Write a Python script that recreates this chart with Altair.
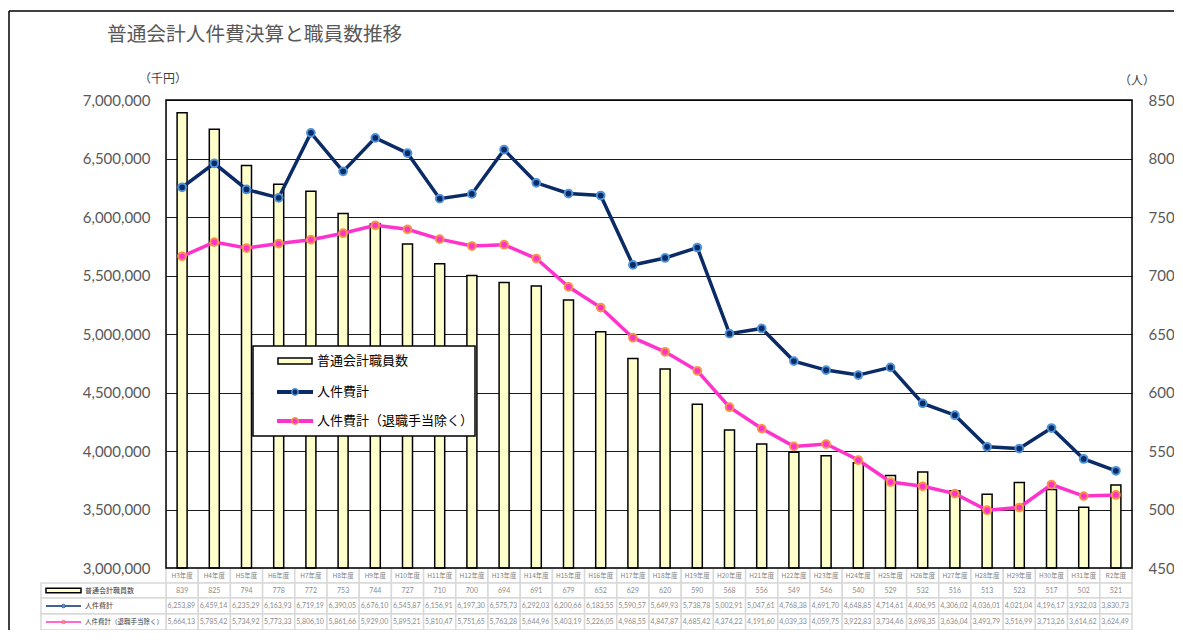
import altair as alt
import pandas as pd

categories = ["H3年度", "H4年度", "H5年度", "H6年度", "H7年度", "H8年度", "H9年度", "H10年度",
              "H11年度", "H12年度", "H13年度", "H14年度", "H15年度", "H16年度", "H17年度", "H18年度",
              "H19年度", "H20年度", "H21年度", "H22年度", "H23年度", "H24年度", "H25年度", "H26年度",
              "H27年度", "H28年度", "H29年度", "H30年度", "H31年度", "R2年度"]

staff = [839, 825, 794, 778, 772, 753, 744, 727, 710, 700, 694, 691, 679, 652, 629, 620,
         590, 568, 556, 549, 546, 540, 529, 532, 516, 513, 523, 517, 502, 521]

personnel_total = [6253890, 6459140, 6235290, 6163930, 6719190, 6390050, 6676100, 6545870,
                   6156910, 6197300, 6575730, 6292030, 6200660, 6183550, 5590570, 5649930,
                   5738780, 5002910, 5047610, 4768380, 4691700, 4648850, 4714610, 4406950,
                   4306020, 4036010, 4021040, 4196170, 3932030, 3830730]

personnel_excl = [5664130, 5785420, 5734920, 5773330, 5806100, 5861660, 5929000, 5895210,
                  5810470, 5751650, 5763280, 5644960, 5403190, 5226050, 4968550, 4847870,
                  4685420, 4374220, 4191600, 4039330, 4059750, 3922830, 3734460, 3698350,
                  3636040, 3493790, 3516990, 3713260, 3614620, 3624490]

left_ticks = [3000000, 3500000, 4000000, 4500000, 5000000, 5500000, 6000000, 6500000, 7000000]
right_ticks = [450, 500, 550, 600, 650, 700, 750, 800, 850]

title_text = "普通会計人件費決算と職員数推移"
left_unit = "（千円）"
right_unit = "（人）"
series_names = ["普通会計職員数", "人件費計", "人件費計（退職手当除く）"]

W, H = 966, 468
NAVY = "#0B2B66"
LIGHTBLUE = "#4F94DB"
PINK = "#FF33CC"
ORANGE = "#F79646"
YELLOW = "#FFFFCC"
GRAY = "#595959"
CJK = "Noto Sans CJK JP"
NUM = "Lato"

df = pd.DataFrame({"cat": categories, "staff": staff,
                   "total": personnel_total, "excl": personnel_excl})
one = pd.DataFrame({"a": [0]})

xs = alt.Scale(domain=categories, paddingInner=0, paddingOuter=0)
X = alt.X("cat:N", sort=categories, scale=xs, axis=None)
money_scale = alt.Scale(domain=[3000000, 7000000], zero=False, nice=False)
staff_scale = alt.Scale(domain=[450, 850], zero=False, nice=False)

base = alt.Chart(df)

# outer frame (top and left edges; right/bottom are outside the picture)
frame = [
    alt.Chart(one).mark_rule(color="black", strokeWidth=1.5).encode(
        x=alt.value(-157), x2=alt.value(1010), y=alt.value(-89)),
    alt.Chart(one).mark_rule(color="black", strokeWidth=1.5).encode(
        x=alt.value(-157), y=alt.value(-89), y2=alt.value(540)),
]

bars = base.mark_bar(size=10, fill=YELLOW, stroke="black", strokeWidth=1.5).encode(
    x=X,
    y=alt.Y("staff:Q", scale=staff_scale, stack=None,
            axis=alt.Axis(orient="right", values=right_ticks, format="d", title=None,
                          ticks=False, domain=False, grid=False, labelPadding=16,
                          labelFont=NUM, labelFontSize=15, labelColor=GRAY)),
    y2=alt.datum(450))

nav_line = base.mark_line(color=NAVY, strokeWidth=3.5).encode(
    x=X,
    y=alt.Y("total:Q", scale=money_scale,
            axis=alt.Axis(orient="left", values=left_ticks, format=",.0f", title=None,
                          ticks=False, domain=False, grid=True, gridColor="#1a1a1a",
                          gridWidth=1.2, labelPadding=16,
                          labelFont=NUM, labelFontSize=15, labelColor=GRAY)))
nav_pts = base.mark_point(filled=True, fill=NAVY, stroke=LIGHTBLUE, strokeWidth=2,
                          size=60, opacity=1, shape="circle").encode(
    x=X, y=alt.Y("total:Q", scale=money_scale, axis=None))

pink_line = base.mark_line(color=PINK, strokeWidth=3.5).encode(
    x=X, y=alt.Y("excl:Q", scale=money_scale, axis=None))
pink_pts = base.mark_point(filled=True, fill=PINK, stroke=ORANGE, strokeWidth=2,
                           size=60, opacity=1, shape="circle").encode(
    x=X, y=alt.Y("excl:Q", scale=money_scale, axis=None))

# plot-area frame
plot_frame = alt.Chart(one).mark_rect(fillOpacity=0, stroke="black", strokeWidth=1.5).encode(
    x=alt.value(0), x2=alt.value(W), y=alt.value(0), y2=alt.value(H))

# ---- data table below the plot ----
rows = [(H, H + 15), (H + 15, H + 30), (H + 30, H + 46), (H + 46, H + 62)]
table_layers = []
for i, (y0, y1) in enumerate(rows):
    table_layers.append(base.mark_rect(fill="white", stroke="#D9D9D9", strokeWidth=1.5).encode(
        x=X, y=alt.value(y0), y2=alt.value(y1)))
    if i > 0:
        table_layers.append(alt.Chart(one).mark_rect(fill="white", stroke="#D9D9D9", strokeWidth=1.5).encode(
            x=alt.value(-125), x2=alt.value(0), y=alt.value(y0), y2=alt.value(y1)))

mid = [(a + b) / 2 for a, b in rows]
table_layers.append(base.mark_text(fontSize=6.5, color="#7F7F7F", font=CJK).encode(
    x=X, y=alt.value(mid[0]), text="cat:N"))
table_layers.append(base.mark_text(fontSize=7, color="#8C8C8C", font=NUM).encode(
    x=X, y=alt.value(mid[1]), text=alt.Text("staff:Q", format="d")))
for j, field in [(2, "total"), (3, "excl")]:
    table_layers.append(base.mark_text(fontSize=7, color="#8C8C8C", font=NUM, align="left",
                                       dx=1.5, limit=29, ellipsis="\u200b").encode(
        x=alt.X("cat:N", sort=categories, scale=xs, axis=None, bandPosition=0),
        y=alt.value(mid[j]), text=alt.Text(f"{field}:Q", format=",.0f")))

# row keys
table_layers += [
    alt.Chart(one).mark_rect(fill=YELLOW, stroke="black", strokeWidth=1.5).encode(
        x=alt.value(-120), x2=alt.value(-85), y=alt.value(mid[1] - 2.3), y2=alt.value(mid[1] + 2.3)),
    alt.Chart(one).mark_rule(color=NAVY, strokeWidth=1.5).encode(
        x=alt.value(-120), x2=alt.value(-85), y=alt.value(mid[2])),
    alt.Chart(one).mark_point(filled=True, fill=LIGHTBLUE, stroke=NAVY, strokeWidth=0.5, size=14, opacity=1).encode(
        x=alt.value(-102.5), y=alt.value(mid[2])),
    alt.Chart(one).mark_rule(color=PINK, strokeWidth=1.5).encode(
        x=alt.value(-120), x2=alt.value(-85), y=alt.value(mid[3])),
    alt.Chart(one).mark_point(filled=True, fill=ORANGE, stroke=PINK, strokeWidth=0.5, size=14, opacity=1).encode(
        x=alt.value(-102.5), y=alt.value(mid[3])),
    alt.Chart(one).mark_text(text=series_names[0], fontSize=7, color="#404040", font=CJK, align="left").encode(
        x=alt.value(-81), y=alt.value(mid[1])),
    alt.Chart(one).mark_text(text=series_names[1], fontSize=7, color="#404040", font=CJK, align="left").encode(
        x=alt.value(-81), y=alt.value(mid[2])),
    alt.Chart(one).mark_text(text=series_names[2], fontSize=6.5, color="#404040", font=CJK, align="left").encode(
        x=alt.value(-81), y=alt.value(mid[3])),
]

# ---- legend box in the plot ----
LX0, LX1, LY0, LY1 = 87, 309, 246, 336
ky = [261, 292, 321]
legend_layers = [
    alt.Chart(one).mark_rect(fill="white", stroke="black", strokeWidth=1.5).encode(
        x=alt.value(LX0), x2=alt.value(LX1), y=alt.value(LY0), y2=alt.value(LY1)),
    alt.Chart(one).mark_rect(fill=YELLOW, stroke="black", strokeWidth=1.5).encode(
        x=alt.value(112), x2=alt.value(146), y=alt.value(ky[0] - 3), y2=alt.value(ky[0] + 3)),
    alt.Chart(one).mark_rule(color=NAVY, strokeWidth=4).encode(
        x=alt.value(111), x2=alt.value(147), y=alt.value(ky[1])),
    alt.Chart(one).mark_point(filled=True, fill=NAVY, stroke=LIGHTBLUE, strokeWidth=1.5, size=40, opacity=1).encode(
        x=alt.value(129), y=alt.value(ky[1])),
    alt.Chart(one).mark_rule(color=PINK, strokeWidth=4).encode(
        x=alt.value(111), x2=alt.value(147), y=alt.value(ky[2])),
    alt.Chart(one).mark_point(filled=True, fill=PINK, stroke=ORANGE, strokeWidth=1.5, size=40, opacity=1).encode(
        x=alt.value(129), y=alt.value(ky[2])),
]
for k, name in enumerate(series_names):
    legend_layers.append(alt.Chart(one).mark_text(text=name, fontSize=13, color="black", font=CJK,
                                                  align="left").encode(
        x=alt.value(151), y=alt.value(ky[k])))

# ---- title & unit labels ----
texts = [
    alt.Chart(one).mark_text(text=title_text, fontSize=19.7, color=GRAY, font=CJK, align="left").encode(
        x=alt.value(-59), y=alt.value(-65)),
    alt.Chart(one).mark_text(text=left_unit, fontSize=12, color="#404040", font=CJK).encode(
        x=alt.value(-3), y=alt.value(-21)),
    alt.Chart(one).mark_text(text=right_unit, fontSize=12, color="#404040", font=CJK).encode(
        x=alt.value(971), y=alt.value(-19)),
]

chart = alt.layer(
    *frame, *table_layers, bars, nav_line, pink_line, nav_pts, pink_pts, plot_frame,
    *legend_layers, *texts
).resolve_scale(y="independent").properties(
    width=W, height=H,
    autosize=alt.AutoSizeParams(type="none"),
    padding={"left": 158, "top": 92, "right": 42, "bottom": 62},
).configure_view(strokeWidth=0, stroke="transparent").configure(background="white")

chart.save("out.html", embed_options={"renderer": "svg", "actions": False})
